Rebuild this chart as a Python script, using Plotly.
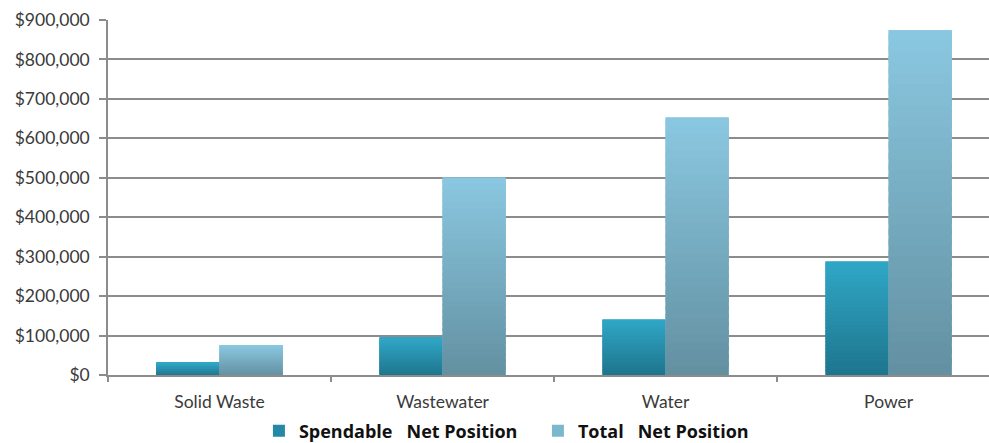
import plotly.graph_objects as go

# Net position by utility fund
categories = ["Solid Waste", "Wastewater", "Water", "Power"]
spendable_net_position = [31000, 95000, 141000, 288000]
total_net_position = [76000, 501000, 653000, 874000]
series_names = ["Spendable\u00a0\u00a0 Net Position", "Total\u00a0\u00a0 Net Position"]
y_tick_values = [0, 100000, 200000, 300000, 400000, 500000, 600000, 700000, 800000, 900000]
y_tick_labels = [f"${v:,}" for v in y_tick_values]

# Number of horizontal bands used to shade each bar from dark (base) to light (top)
BANDS = 32


def hex_to_rgb(h):
    h = h.lstrip("#")
    return tuple(int(h[i:i + 2], 16) for i in (0, 2, 4))


def blend(c0, c1, t):
    a, b = hex_to_rgb(c0), hex_to_rgb(c1)
    r, g, bl = (round(a[i] + (b[i] - a[i]) * t) for i in range(3))
    return f"rgb({r},{g},{bl})"


series = [
    # name, values, bottom colour, top colour, legend colour, offset group
    (series_names[0], spendable_net_position, "#1e758d", "#30a7c7", "#2389a7", "spendable"),
    (series_names[1], total_net_position, "#6390a1", "#8ac8e1", "#7bb7cd", "total"),
]

fig = go.Figure()
for name, values, bottom, top, legend_color, group in series:
    # Solid bar carrying the legend entry and the hover value
    fig.add_bar(
        x=categories, y=values, name=name, offsetgroup=group, legendgroup=group,
        marker=dict(color=legend_color, line_width=0),
        hovertemplate="%{x}<br>$%{y:,.0f}<extra>" + name + "</extra>",
    )
    # Shading bands laid over the solid bar; each band overlaps the next one
    # slightly so no seams show between them
    for k in range(BANDS):
        t = (k + 0.5) / BANDS
        span = min(1.6, BANDS - k) / BANDS
        fig.add_bar(
            x=categories,
            y=[v * span for v in values],
            base=[v * k / BANDS for v in values],
            offsetgroup=group, legendgroup=group, showlegend=False,
            marker=dict(color=blend(bottom, top, t), line_width=0),
            hoverinfo="skip",
        )

grid_color = "#8c8c8c"
fig.update_layout(
    width=989, height=443,
    margin=dict(l=108, r=0, t=20, b=68, autoexpand=False),
    paper_bgcolor="white", plot_bgcolor="white",
    barmode="group", bargap=0.434, bargroupgap=0,
    font=dict(family="Lato, 'Open Sans', sans-serif", size=15, color="#3a3a3a"),
    showlegend=True,
    legend=dict(
        orientation="h", x=0.488, xanchor="center", y=-0.158, yanchor="middle",
        font=dict(size=18, color="#111111", family="'Open Sans', Lato, sans-serif", weight="bold"),
        itemwidth=30, tracegroupgap=0, traceorder="normal",
        entrywidth=234, entrywidthmode="pixels",
    ),
    hovermode="closest",
)
fig.update_xaxes(
    range=[-0.5, 3.45], showline=True, linecolor=grid_color, linewidth=1.5,
    ticks="outside", tickson="boundaries", ticklen=5, tickcolor=grid_color, tickwidth=1.5,
    showgrid=False, fixedrange=True, ticklabelstandoff=10,
    tickfont=dict(size=17.5, color="#3a3a3a"),
)
fig.update_yaxes(
    range=[0, 900000], tickmode="array", tickvals=y_tick_values, ticktext=y_tick_labels,
    showgrid=True, gridcolor=grid_color, gridwidth=1.5,
    showline=True, linecolor=grid_color, linewidth=1.5,
    ticks="outside", ticklen=7, tickcolor=grid_color, tickwidth=1.5,
    zeroline=False, fixedrange=True, ticklabelstandoff=6,
    tickfont=dict(size=17.5, color="#3a3a3a"),
)

fig.write_html("out.html")
